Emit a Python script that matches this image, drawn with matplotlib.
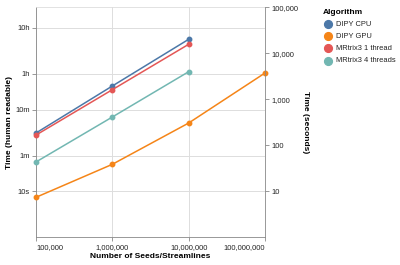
import matplotlib
matplotlib.use("Agg")
import matplotlib.pyplot as plt
from matplotlib.lines import Line2D
from matplotlib.ticker import FixedLocator, NullLocator

plt.rcParams["font.family"] = ["Liberation Sans", "DejaVu Sans"]

# ---- data ----
algorithms = ["DIPY CPU", "DIPY GPU", "MRtrix3 1 thread", "MRtrix3 4 threads"]
colors = ["#4c78a8", "#f58518", "#e45756", "#72b7b2"]
seeds_cpu = [1e5, 1e6, 1e7]
seeds_gpu = [1e5, 1e6, 1e7, 1e8]
dipy_cpu = [185, 1945, 20150]
dipy_gpu = [7.4, 38.6, 305, 3730]
mrtrix_1 = [167, 1617, 15700]
mrtrix_4 = [43.4, 412, 3980]
series_x = [seeds_cpu, seeds_gpu, seeds_cpu, seeds_cpu]
series_y = [dipy_cpu, dipy_gpu, mrtrix_1, mrtrix_4]

x_ticks = [1e5, 1e6, 1e7, 1e8]
x_tick_labels = ["100,000", "1,000,000", "10,000,000", "100,000,000"]
human_ticks = [10, 60, 600, 3600, 36000]
human_labels = ["10s", "1m", "10m", "1h", "10h"]
sec_ticks = [10, 100, 1000, 10000, 100000]
sec_labels = ["10", "100", "1,000", "10,000", "100,000"]

W, H = 400, 265
fig = plt.figure(figsize=(W / 100, H / 100), dpi=100)
L, R, T, B = 36, 265, 7.3, 237.3
ax = fig.add_axes([L / W, 1 - B / H, (R - L) / W, (B - T) / H])

AXC = "#888888"
GRIDC = "#dddddd"
LBL = 5.4
TTL = 6.05
TXT = "#222222"

ax.set_xscale("log")
ax.set_yscale("log")
ax.set_xlim(1e5, 1e8)
ax.set_ylim(1, 1e5)

for xs, ys, c in zip(series_x, series_y, colors):
    ax.plot(xs, ys, color=c, lw=1.1, marker="o", ms=3.2, zorder=3,
            clip_on=False)

ax.xaxis.set_major_locator(FixedLocator(x_ticks))
ax.xaxis.set_minor_locator(NullLocator())
ax.set_xticklabels(x_tick_labels)
ax.yaxis.set_major_locator(FixedLocator(human_ticks))
ax.yaxis.set_minor_locator(NullLocator())
ax.set_yticklabels(human_labels)

ax.grid(True, color=GRIDC, lw=0.7, zorder=0)
ax.set_axisbelow(True)
ax.tick_params(axis="both", length=3.0, width=0.6, color=AXC,
               labelsize=LBL, labelcolor=TXT, pad=1.5)
for s in ["left", "bottom"]:
    ax.spines[s].set_color(AXC)
    ax.spines[s].set_linewidth(0.6)
ax.spines["top"].set_color(GRIDC)
ax.spines["top"].set_linewidth(0.6)
ax.spines["right"].set_visible(False)

xl = ax.get_xticklabels()
xl[0].set_horizontalalignment("left")
xl[-1].set_horizontalalignment("right")

ax.set_xlabel("Number of Seeds/Streamlines", fontsize=TTL, fontweight="bold")
ax.xaxis.set_label_coords((150 - L) / (R - L), -(257 - B) / (B - T))
ax.xaxis.label.set_va("center")
ax.set_ylabel("Time (human readable)", fontsize=TTL, fontweight="bold")
ax.yaxis.set_label_coords((10 - L) / (R - L), 0.5)
ax.yaxis.label.set_va("center")

ax2 = ax.twinx()
ax2.set_yscale("log")
ax2.set_ylim(1, 1e5)
ax2.yaxis.set_major_locator(FixedLocator(sec_ticks))
ax2.yaxis.set_minor_locator(NullLocator())
ax2.set_yticklabels(sec_labels)
ax2.tick_params(axis="y", length=3.0, width=0.6, color=AXC,
                labelsize=LBL, labelcolor=TXT, pad=1.5)
for s in ["left", "top", "bottom"]:
    ax2.spines[s].set_visible(False)
ax2.spines["right"].set_color(AXC)
ax2.spines["right"].set_linewidth(0.6)
ax2.set_ylabel("Time (seconds)", fontsize=TTL, fontweight="bold", rotation=-90)
ax2.yaxis.set_label_coords((305.7 - L) / (R - L), 0.5)
ax2.yaxis.label.set_va("center")

# legend
fig.text(323 / W, 1 - 12 / H, "Algorithm", fontsize=TTL, fontweight="bold",
         ha="left", va="center")
ys_leg = [24, 36, 48.3, 61]
for name, c, yy in zip(algorithms, colors, ys_leg):
    fig.add_artist(Line2D([327.7 / W], [1 - yy / H], marker="o", ms=5.6,
                          color=c, lw=0, transform=fig.transFigure))
    fig.text(336 / W, 1 - yy / H, name, fontsize=LBL, ha="left",
             va="center", color=TXT)

fig.savefig("out.png", dpi=100)
